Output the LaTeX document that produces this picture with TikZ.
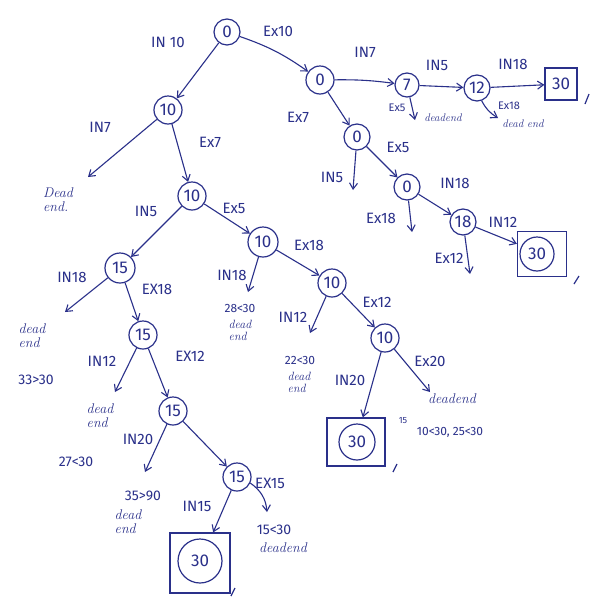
\documentclass[tikz,border=0pt]{standalone}
\usepackage{fontspec}
\setsansfont{Fira Sans}
\usetikzlibrary{arrows.meta}
\definecolor{ink}{RGB}{42,48,138}
\tikzset{
  st/.style={circle, draw=ink, line width=1.2pt, inner sep=0pt, minimum size=26pt, text=ink, font=\sffamily\fontsize{17}{17}\selectfont},
  goalbox/.style={rectangle, draw=ink, line width=1.2pt, inner sep=0pt, text=ink, font=\sffamily\fontsize{17}{17}\selectfont},
  lbl/.style={text=ink, inner sep=0pt, font=\sffamily\fontsize{15}{15}\selectfont},
  smlbl/.style={text=ink, inner sep=0pt, font=\sffamily\fontsize{11}{11}\selectfont},
  note/.style={text=ink, inner sep=0pt, align=left, font=\itshape\fontsize{14}{14}\selectfont},
  num/.style={text=ink, inner sep=0pt, font=\sffamily\fontsize{14}{14}\selectfont},
  edge/.style={draw=ink, line width=1.1pt, -{Straight Barb[length=6pt,width=8pt]}},
  tick/.style={draw=ink, line width=1.2pt}
}
\begin{document}
\begin{tikzpicture}[x=1pt,y=-1pt]
\useasboundingbox[fill=white] (0,0) rectangle (591,600);
% ---------- state nodes ----------
\node[st, minimum size=26pt] (r) at (227,32) {0};
\node[st, minimum size=28pt] (a) at (168,110) {10};
\node[st, minimum size=28pt] (b) at (192,196) {10};
\node[st, minimum size=30pt] (c) at (263,242) {10};
\node[st, minimum size=28pt] (d) at (332,283) {10};
\node[st, minimum size=28pt] (e) at (385,338) {10};
\node[st, minimum size=30pt] (f) at (120,268) {15};
\node[st, minimum size=28pt] (g) at (143,335) {15};
\node[st, minimum size=28pt] (h) at (173,411) {15};
\node[st, minimum size=28pt] (i) at (237,477) {15};
\node[st, minimum size=28pt] (p) at (320,80) {0};
\node[st, minimum size=24pt] (q) at (407,85) {7};
\node[st, minimum size=26pt] (s) at (477,88) {12};
\node[st, minimum size=26pt] (t) at (357,137) {0};
\node[st, minimum size=26pt] (u) at (407,187) {0};
\node[st, minimum size=26pt] (v) at (463,222) {18};
% ---------- goal boxes ----------
\node[goalbox, minimum width=32pt, minimum height=32pt] (G1) at (561,84) {30};
\node[goalbox, minimum width=49pt, minimum height=45pt] (G2) at (542,254) {};
\node[st, minimum size=34pt] (G2c) at (537,254) {30};
\node[goalbox, minimum width=58pt, minimum height=48pt] (G3) at (356,442) {};
\node[st, minimum size=36pt] (G3c) at (357,442) {30};
\node[goalbox, minimum width=60pt, minimum height=60pt] (G4) at (200,563) {};
\node[st, minimum size=44pt] (G4c) at (200,561) {30};
% ---------- free ends ----------
\coordinate (xa) at (88,177);
\coordinate (xf) at (65,312);
\coordinate (xg) at (115,392);
\coordinate (xh) at (145,472);
\coordinate (xi) at (267,512);
\coordinate (xc) at (248,292);
\coordinate (xd) at (310,333);
\coordinate (xe) at (430,392);
\coordinate (xq) at (415,120);
\coordinate (xs) at (498,118);
\coordinate (xt) at (353,190);
\coordinate (xu) at (412,232);
\coordinate (xv) at (470,274);
% ---------- connectors ----------
\draw[edge] (r) -- (a);
\draw[edge] (r) to[bend left=8] (p);
\draw[edge] (a) -- (xa);
\draw[edge] (a) -- (b);
\draw[edge] (b) -- (f);
\draw[edge] (b) -- (c);
\draw[edge] (f) -- (xf);
\draw[edge] (f) -- (g);
\draw[edge] (g) -- (xg);
\draw[edge] (g) -- (h);
\draw[edge] (h) -- (xh);
\draw[edge] (h) -- (i);
\draw[edge] (i) -- (G4);
\draw[edge] (i) to[bend left=25] (xi);
\draw[edge] (c) -- (xc);
\draw[edge] (c) -- (d);
\draw[edge] (d) -- (xd);
\draw[edge] (d) -- (e);
\draw[edge] (e) -- (G3);
\draw[edge] (e) -- (xe);
\draw[edge] (p) to[bend left=4] (q);
\draw[edge] (p) -- (t);
\draw[edge] (q) -- (s);
\draw[edge] (q) -- (xq);
\draw[edge] (s) -- (G1);
\draw[edge] (s) to[bend right=15] (xs);
\draw[edge] (t) -- (xt);
\draw[edge] (t) -- (u);
\draw[edge] (u) -- (xu);
\draw[edge] (u) -- (v);
\draw[edge] (v) -- (G2);
\draw[edge] (v) -- (xv);
% ---------- edge labels ----------
\node[lbl] (l1) at (168,42) {IN 10};
\node[lbl] (l2) at (278,31) {Ex10};
\node[lbl] (l3) at (100,127) {IN7};
\node[lbl] (l4) at (210,142) {Ex7};
\node[lbl] (l5) at (146,211) {IN5};
\node[lbl] (l6) at (234,208) {Ex5};
\node[lbl] (l7) at (72,277) {IN18};
\node[lbl] (l8) at (157,289) {EX18};
\node[lbl] (l9) at (102,361) {IN12};
\node[lbl] (l10) at (190,356) {EX12};
\node[lbl] (l11) at (138,439) {IN20};
\node[lbl] (l12) at (197,506) {IN15};
\node[lbl] (l13) at (270,483) {EX15};
\node[lbl] (l14) at (232,275) {IN18};
\node[lbl] (l15) at (309,245) {Ex18};
\node[lbl] (l16) at (293,317) {IN12};
\node[lbl] (l17) at (377,302) {Ex12};
\node[lbl] (l18) at (350,380) {IN20};
\node[lbl] (l19) at (430,361) {Ex20};
\node[lbl] (l20) at (365,52) {IN7};
\node[lbl] (l21) at (298,117) {Ex7};
\node[lbl] (l22) at (437,65) {IN5};
\node[lbl] (l23) at (513,64) {IN18};
\node[smlbl] (l24) at (397,108) {Ex5};
\node[smlbl] (l25) at (509,106) {Ex18};
\node[lbl] (l26) at (332,177) {IN5};
\node[lbl] (l27) at (398,147) {Ex5};
\node[lbl] (l28) at (381,218) {Ex18};
\node[lbl] (l29) at (455,183) {IN18};
\node[lbl] (l30) at (503,222) {IN12};
\node[lbl] (l31) at (449,258) {Ex12};
% ---------- notes ----------
\node[note] (n1) at (58,200) {Dead\\end.};
\node[note] (n2) at (32,336) {dead\\end};
\node[num] (n3) at (36,380) {33>30};
\node[note] (n4) at (100,416) {dead\\end};
\node[num] (n5) at (76,462) {27<30};
\node[num] (n6a) at (143,496) {35>90};
\node[note] (n6b) at (128,522) {dead\\end};
\node[num] (n7a) at (274,530) {15<30};
\node[note] (n7b) at (283,548) {deadend};
\node[num, font=\sffamily\fontsize{12}{12}\selectfont] (n8a) at (240,308) {28<30};
\node[note, font=\itshape\fontsize{12}{12}\selectfont] (n8b) at (240,330) {dead\\end};
\node[num, font=\sffamily\fontsize{12}{12}\selectfont] (n9a) at (300,360) {22<30};
\node[note, font=\itshape\fontsize{12}{12}\selectfont] (n9b) at (299,382) {dead\\end};
\node[num, font=\sffamily\fontsize{9}{9}\selectfont] (n10) at (403,421) {15};
\node[note] (n11) at (452,399) {deadend};
\node[num, font=\sffamily\fontsize{12}{12}\selectfont] (n12) at (450,432) {10<30, 25<30};
\node[note, font=\itshape\fontsize{11}{11}\selectfont] (n13) at (443,118) {deadend};
\node[note, font=\itshape\fontsize{11}{11}\selectfont] (n14) at (523,124) {dead end};
% ---------- small ink marks ----------
\draw[tick] (585,104) -- (589,94);
\draw[tick] (574,284) -- (579,276);
\draw[tick] (393,472) -- (397,464);
\draw[tick] (231,596) -- (235,588);
\end{tikzpicture}
\end{document}
